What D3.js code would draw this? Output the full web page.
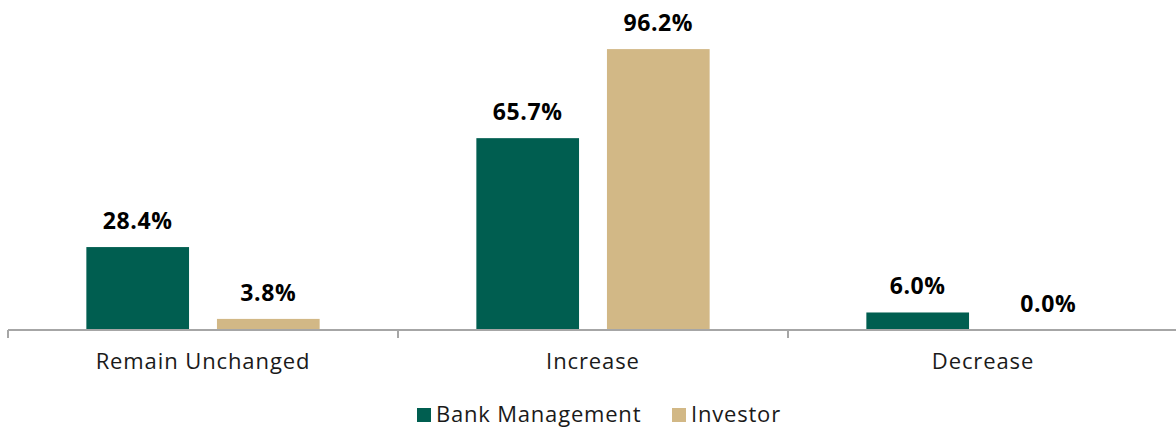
<!DOCTYPE html>
<html>
<head>
  <meta charset="utf-8">
  <script src="https://d3js.org/d3.v7.min.js"></script>
  <style>
    body { margin: 0; background: #fff; }
    text { font-family: "Open Sans", "Noto Sans", sans-serif; fill: #1a1a1a; }
    .val { font-weight: 700; font-size: 23px; letter-spacing: 0.6px; fill: #000; }
    .cat { font-size: 22px; letter-spacing: 0.9px; }
    .legend text { font-size: 22px; letter-spacing: 0.8px; }
  </style>
</head>
<body>
  <div id="chart"></div>
  <script>
    var categories = ['Remain Unchanged', 'Increase', 'Decrease'];
    var seriesNames = ['Bank Management', 'Investor'];
    var bankValues = [28.4, 65.7, 6.0];
    var investorValues = [3.8, 96.2, 0.0];
    var colors = ['#005e50', '#d2b886'];

    var width = 1176, height = 427;
    var baseY = 330;

    var svg = d3.select('#chart').append('svg')
      .attr('width', width)
      .attr('height', height);

    var x0 = d3.scaleBand()
      .domain(categories)
      .range([8, 1178])
      .paddingInner(0)
      .paddingOuter(0);

    var x1 = d3.scaleBand()
      .domain(seriesNames)
      .range([0, x0.bandwidth()])
      .paddingInner(28 / 131)
      .paddingOuter(0.6);

    var y = d3.scaleLinear()
      .domain([0, 100])
      .range([baseY, baseY - 292]);

    var rows = categories.map(function(c, i) {
      return { cat: c, vals: [bankValues[i], investorValues[i]] };
    });

    var groups = svg.selectAll('.grp')
      .data(rows)
      .enter().append('g')
      .attr('class', 'grp')
      .attr('transform', function(d) { return 'translate(' + x0(d.cat) + ',0)'; });

    var bars = groups.selectAll('g.bar')
      .data(function(d) {
        return d.vals.map(function(v, j) { return { s: seriesNames[j], v: v, j: j }; });
      })
      .enter().append('g').attr('class', 'bar');

    bars.append('rect')
      .attr('x', function(d) { return x1(d.s); })
      .attr('width', x1.bandwidth())
      .attr('y', function(d) { return y(d.v); })
      .attr('height', function(d) { return baseY - y(d.v); })
      .attr('fill', function(d) { return colors[d.j]; });

    bars.append('text')
      .attr('class', 'val')
      .attr('x', function(d) { return x1(d.s) + x1.bandwidth() / 2; })
      .attr('y', function(d) { return y(d.v) - 18; })
      .attr('text-anchor', 'middle')
      .text(function(d) { return d.v.toFixed(1) + '%'; });

    // axis line + separators between categories
    var ax = svg.append('g').attr('transform', 'translate(0,' + baseY + ')');
    ax.append('line')
      .attr('x1', 8).attr('x2', width)
      .attr('stroke', '#a6a6a6').attr('stroke-width', 2);

    ax.selectAll('.sep')
      .data(categories)
      .enter().append('line')
      .attr('x1', function(d) { return x0(d); })
      .attr('x2', function(d) { return x0(d); })
      .attr('y1', 0).attr('y2', 8)
      .attr('stroke', '#a6a6a6').attr('stroke-width', 2);

    svg.selectAll('.cat')
      .data(categories)
      .enter().append('text')
      .attr('class', 'cat')
      .attr('x', function(d) { return x0(d) + x0.bandwidth() / 2; })
      .attr('y', 369)
      .attr('text-anchor', 'middle')
      .text(function(d) { return d; });

    // legend
    var legend = svg.append('g').attr('class', 'legend');
    var legX = [417, 672];
    seriesNames.forEach(function(s, i) {
      legend.append('rect')
        .attr('x', legX[i]).attr('y', 408)
        .attr('width', 14).attr('height', 14)
        .attr('fill', colors[i]);
      legend.append('text')
        .attr('x', legX[i] + 19).attr('y', 422)
        .text(s);
    });
  </script>
</body>
</html>
